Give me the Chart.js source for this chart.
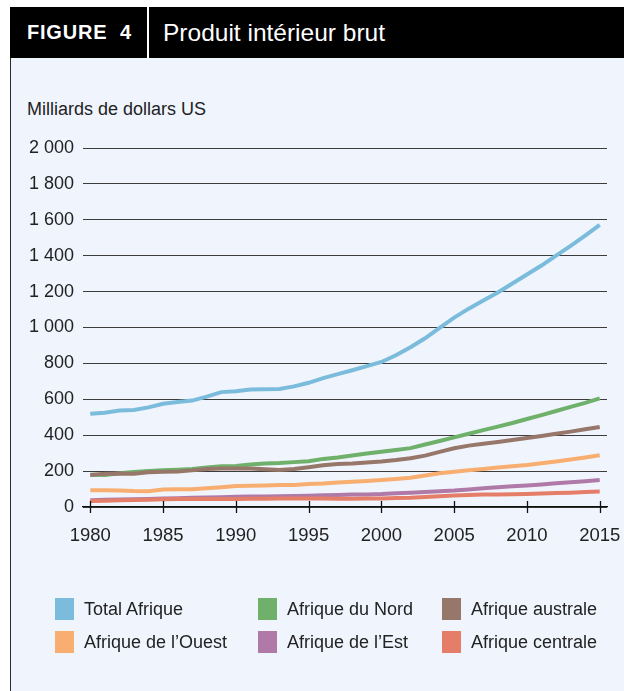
<!DOCTYPE html>
<html>
<head>
<meta charset="utf-8">
<script src="https://cdn.jsdelivr.net/npm/chart.js@4/dist/chart.umd.min.js"></script>
<style>
  html, body { margin:0; padding:0; background:#ffffff; }
  body { width:624px; height:691px; position:relative; overflow:hidden; font-family:'Liberation Sans', Arial, sans-serif; }
  #panel { position:absolute; left:10px; top:58px; width:614px; height:633px; background:#f0f5fd; border-left:1.5px solid #2a2a2a; box-sizing:border-box; }
  #header { position:absolute; left:10px; top:7px; width:614px; height:51px; background:#000; color:#fff; }
  #fig { position:absolute; left:17px; top:0; height:51px; line-height:51px; font-weight:bold; font-size:20px; letter-spacing:0.8px; }
  #div { position:absolute; left:137px; top:0; width:2px; height:51px; background:#fff; }
  #ttl { position:absolute; left:153px; top:0; height:51px; line-height:51px; font-size:24.5px; }
  #ylab { position:absolute; left:27px; top:99px; font-size:18px; color:#222; }
  #wrap { position:absolute; left:0; top:0; width:624px; height:691px; }
  #legend { position:absolute; left:0; top:0; }
  .li { position:absolute; height:22px; line-height:22px; font-size:18px; color:#222; white-space:nowrap; }
  .li span.box { position:absolute; left:0; top:0; width:19px; height:22px; }
  .li span.txt { position:absolute; left:29px; top:0; }
</style>
</head>
<body>
<div id="panel"></div>
<div id="header"><div id="fig">FIGURE&nbsp; 4</div><div id="div"></div><div id="ttl">Produit intérieur brut</div></div>
<div id="ylab">Milliards de dollars US</div>
<div id="wrap"><canvas id="c" width="624" height="691"></canvas></div>
<div id="legend"></div>
<script>
const years = [1980,1981,1982,1983,1984,1985,1986,1987,1988,1989,1990,1991,1992,1993,1994,1995,1996,1997,1998,1999,2000,2001,2002,2003,2004,2005,2006,2007,2008,2009,2010,2011,2012,2013,2014,2015];
const xTickYears = [1980,1985,1990,1995,2000,2005,2010,2015];
const yTicks = [0,200,400,600,800,1000,1200,1400,1600,1800,2000];

const seriesNames = ["Total Afrique","Afrique du Nord","Afrique australe","Afrique de l\u2019Ouest","Afrique de l\u2019Est","Afrique centrale"];
const seriesColors = ["#7bbcdc","#6fb06b","#97776a","#f7ae70","#b07aa8","#e57e69"];

const totalAfrique = [520,525,538,540,555,575,585,593,615,640,645,655,656,658,672,692,718,740,762,785,808,845,890,940,998,1055,1105,1150,1195,1245,1295,1345,1400,1455,1512,1572];
const afriqueNord = [180,178,188,195,200,205,208,212,220,227,228,237,242,245,250,255,268,276,287,298,308,318,328,348,368,388,408,428,448,468,490,512,535,558,580,605];
const afriqueAustrale = [178,185,187,185,193,197,198,204,212,215,215,214,210,206,212,222,232,240,243,248,254,262,272,286,307,327,342,352,362,373,384,396,408,420,433,446];
const afriqueOuest = [93,93,92,89,88,97,99,99,104,110,117,118,120,122,123,128,131,136,141,145,150,156,163,175,188,197,205,212,220,227,234,244,254,265,276,288];
const afriqueEst = [38,40,42,43,45,47,49,51,53,55,57,58,59,60,61,63,65,67,69,70,72,76,80,84,88,92,98,104,110,115,120,126,132,138,144,150];
const afriqueCentrale = [33,35,37,39,41,43,44,44,45,45,45,46,46,47,47,48,47,46,46,47,48,50,52,56,60,64,67,69,70,71,73,75,78,80,83,86];

const allSeries = [totalAfrique, afriqueNord, afriqueAustrale, afriqueOuest, afriqueEst, afriqueCentrale];
const drawOrder = [0,4,3,5,2,1]; // lower = on top

const FONT = "'Liberation Sans', Arial, sans-serif";

const datasets = allSeries.map((vals, i) => ({
  label: seriesNames[i],
  data: vals.map((v, j) => ({x: years[j], y: v})),
  borderColor: seriesColors[i],
  backgroundColor: seriesColors[i],
  borderWidth: 4,
  pointRadius: 0,
  tension: 0,
  fill: false,
  order: drawOrder[i]
}));

const tickMarks = {
  id: 'tickMarks',
  afterDraw(chart) {
    const xs = chart.scales.x;
    const ctx = chart.ctx;
    const b = chart.chartArea.bottom;
    ctx.save();
    ctx.strokeStyle = '#111';
    ctx.lineWidth = 1.3;
    xs.ticks.forEach(t => {
      const px = Math.round(xs.getPixelForValue(t.value)) + 0.5;
      ctx.beginPath();
      ctx.moveTo(px, b - 6);
      ctx.lineTo(px, b + 6);
      ctx.stroke();
    });
    ctx.restore();
  }
};

new Chart(document.getElementById('c'), {
  type: 'line',
  data: { datasets },
  options: {
    responsive: false,
    animation: false,
    events: [],
    layout: { padding: { left: 0, right: 17, top: 148, bottom: 0 } },
    plugins: { legend: { display: false }, tooltip: { enabled: false } },
    scales: {
      x: {
        type: 'linear',
        min: 1979.5,
        max: 2015.5,
        afterBuildTicks(scale) { scale.ticks = xTickYears.map(v => ({value: v})); },
        afterFit(scale) { scale.height = 184; scale.paddingLeft = 0; scale.paddingRight = 0; },
        grid: { drawOnChartArea: false, drawTicks: false },
        border: { display: true, color: '#111', width: 1.3 },
        ticks: {
          padding: 18,
          color: '#222',
          font: { family: FONT, size: 18.5 },
          maxRotation: 0,
          callback: v => String(v)
        }
      },
      y: {
        min: 0,
        max: 2000,
        afterBuildTicks(scale) { scale.ticks = yTicks.map(v => ({value: v})); },
        afterFit(scale) { scale.width = 83; },
        grid: { color: '#3c3c3c', lineWidth: 1, drawTicks: false },
        border: { display: false },
        ticks: {
          padding: 9,
          color: '#222',
          font: { family: FONT, size: 18 },
          callback: v => (v >= 1000 ? Math.floor(v/1000) + ' ' + String(v % 1000).padStart(3,'0') : String(v))
        }
      }
    }
  },
  plugins: [tickMarks]
});

// HTML legend built from series names/colours
const legendCols = [55, 258, 442];
const legendRows = [598, 631];
const legend = document.getElementById('legend');
seriesNames.forEach((name, i) => {
  const d = document.createElement('div');
  d.className = 'li';
  d.style.left = legendCols[i % 3] + 'px';
  d.style.top = legendRows[Math.floor(i / 3)] + 'px';
  d.innerHTML = '<span class="box" style="background:' + seriesColors[i] + '"></span><span class="txt"></span>';
  d.querySelector('.txt').textContent = name;
  legend.appendChild(d);
});
</script>
</body>
</html>
